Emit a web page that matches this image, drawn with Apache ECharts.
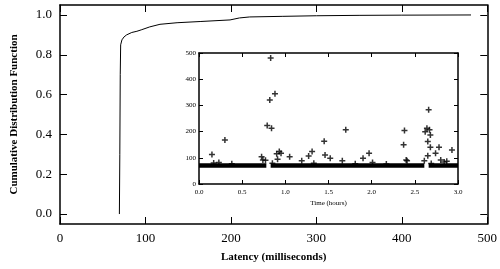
<!DOCTYPE html>
<html>
<head>
<meta charset="utf-8">
<script src="https://cdn.jsdelivr.net/npm/echarts@6/dist/echarts.min.js"></script>
<style>
  html, body { margin: 0; padding: 0; background: #fff; }
  #chart { width: 500px; height: 269px; }
</style>
</head>
<body>
<div id="chart"></div>
<script>
// CDF of latency (main plot)
var cdfLatency = [69.5, 70, 70.5, 71, 72.5, 75, 78, 84, 90, 95, 105, 117, 137, 164, 199, 210, 222, 260, 300, 350, 400, 481];
var cdfValue   = [0.0, 0.3, 0.7, 0.85, 0.875, 0.89, 0.90, 0.912, 0.918, 0.925, 0.94, 0.953, 0.961, 0.967, 0.975, 0.985, 0.99, 0.993, 0.996, 0.998, 0.999, 1.0];
var cdfTicks = [0, 0.2, 0.4, 0.6, 0.8, 1.0];

// inset: dense baseline of ~70 ms samples (start/end of each run, hours)
var baseStart = [0.0, 0.83, 2.66];
var baseEnd   = [0.78, 2.61, 3.0];
var baseLatency = 71;

// inset: samples above the baseline
var outTime = [0.15, 0.30, 0.17, 0.23, 0.38, 0.725, 0.74, 0.77, 0.79, 0.82, 0.83, 0.84, 0.85, 0.88, 0.90, 0.91, 0.93, 0.95, 1.05, 1.19, 1.27, 1.31, 1.33, 1.45, 1.46, 1.52, 1.66, 1.70, 1.81, 1.90, 1.97, 2.01, 2.17, 2.37, 2.38, 2.40, 2.41, 2.61, 2.62, 2.64, 2.65, 2.65, 2.66, 2.67, 2.68, 2.68, 2.69, 2.74, 2.78, 2.80, 2.84, 2.87, 2.93];
var outLat  = [113, 168, 80, 82, 77, 104, 92, 91, 223, 321, 481, 213, 79, 344, 115, 94, 124, 117, 104, 89, 107, 124, 79, 163, 111, 98, 89, 207, 77, 98, 117, 82, 76, 150, 204, 92, 89, 89, 199, 213, 162, 108, 283, 207, 187, 140, 78, 117, 140, 92, 84, 87, 130];

var serif = '"Liberation Serif", "DejaVu Serif", serif';

var cdfData = cdfLatency.map(function (x, i) { return [x, cdfValue[i]]; });
var baseData = [];
baseStart.forEach(function (s, i) {
    if (i > 0) baseData.push('-');
    baseData.push([s, baseLatency], [baseEnd[i], baseLatency]);
});
var outData = outTime.map(function (t, i) { return [t, outLat[i]]; });

var frame = { show: true, onZero: false, lineStyle: { color: '#000', width: 1.5 } };
var plus = 'path://M2.25,0h1.5v2.25h2.25v1.5h-2.25v2.25h-1.5v-2.25h-2.25v-1.5h2.25z';

var option = {
    backgroundColor: '#fff',
    animation: false,
    grid: [
        { left: 60, top: 5, right: 12, bottom: 45 },
        { left: 199, top: 53, width: 259, height: 131, show: true, backgroundColor: '#fff', borderWidth: 0, z: 3 }
    ],
    xAxis: [
        {
            gridIndex: 0, type: 'value', min: 0, max: 500, interval: 100,
            name: 'Latency (milliseconds)', nameLocation: 'middle', nameGap: 28,
            nameTextStyle: { fontFamily: serif, fontSize: 11, fontWeight: 'bold', color: '#000' },
            axisLine: frame,
            axisTick: { inside: true, length: 7, lineStyle: { color: '#000' } },
            axisLabel: { fontFamily: serif, fontSize: 13, color: '#000', margin: 8 },
            splitLine: { show: false }
        },
        {
            gridIndex: 0, type: 'value', position: 'top', min: 0, max: 500, interval: 100,
            axisLine: frame,
            axisTick: { inside: true, length: 7, lineStyle: { color: '#000' } },
            axisLabel: { show: false }, splitLine: { show: false }
        },
        {
            gridIndex: 1, type: 'value', min: 0, max: 3, interval: 0.5, z: 4,
            name: 'Time (hours)', nameLocation: 'middle', nameGap: 16,
            nameTextStyle: { fontFamily: serif, fontSize: 7, color: '#000' },
            axisLine: frame,
            axisTick: { inside: true, length: 4, lineStyle: { color: '#000' } },
            axisLabel: { fontFamily: serif, fontSize: 7, color: '#000', margin: 5,
                formatter: function (v) { return v.toFixed(1); } },
            splitLine: { show: false }
        },
        {
            gridIndex: 1, type: 'value', position: 'top', min: 0, max: 3, interval: 0.5, z: 4,
            axisLine: frame,
            axisTick: { inside: true, length: 4, lineStyle: { color: '#000' } },
            axisLabel: { show: false }, splitLine: { show: false }
        }
    ],
    yAxis: [
        {
            gridIndex: 0, type: 'value', min: -0.05, max: 1.05,
            name: 'Cumulative Distribution Function', nameLocation: 'middle', nameGap: 40,
            nameTextStyle: { fontFamily: serif, fontSize: 11, fontWeight: 'bold', color: '#000' },
            axisLine: frame,
            axisTick: { inside: true, length: 7, customValues: cdfTicks, lineStyle: { color: '#000' } },
            axisLabel: { fontFamily: serif, fontSize: 13, color: '#000', margin: 8, customValues: cdfTicks,
                formatter: function (v) { return v.toFixed(1); } },
            splitLine: { show: false }
        },
        {
            gridIndex: 0, type: 'value', position: 'right', min: -0.05, max: 1.05,
            axisLine: frame,
            axisTick: { inside: true, length: 7, customValues: cdfTicks, lineStyle: { color: '#000' } },
            axisLabel: { show: false }, splitLine: { show: false }
        },
        {
            gridIndex: 1, type: 'value', min: 0, max: 500, interval: 100, z: 4,
            axisLine: frame,
            axisTick: { inside: true, length: 4, lineStyle: { color: '#000' } },
            axisLabel: { fontFamily: serif, fontSize: 7, color: '#000', margin: 3 },
            splitLine: { show: false }
        },
        {
            gridIndex: 1, type: 'value', position: 'right', min: 0, max: 500, interval: 100, z: 4,
            axisLine: frame,
            axisTick: { inside: true, length: 4, lineStyle: { color: '#000' } },
            axisLabel: { show: false }, splitLine: { show: false }
        }
    ],
    series: [
        {
            type: 'line', xAxisIndex: 0, yAxisIndex: 0, data: cdfData,
            showSymbol: false, lineStyle: { color: '#000', width: 1 }
        },
        {
            type: 'line', xAxisIndex: 2, yAxisIndex: 2, data: baseData, z: 5,
            showSymbol: false, lineStyle: { color: '#000', width: 4.5 }
        },
        {
            type: 'scatter', xAxisIndex: 2, yAxisIndex: 2, data: outData, z: 5,
            symbol: plus, symbolSize: 6, itemStyle: { color: '#000' }
        }
    ]
};

var myChart = echarts.init(document.getElementById('chart'));
myChart.setOption(option);
</script>
</body>
</html>
